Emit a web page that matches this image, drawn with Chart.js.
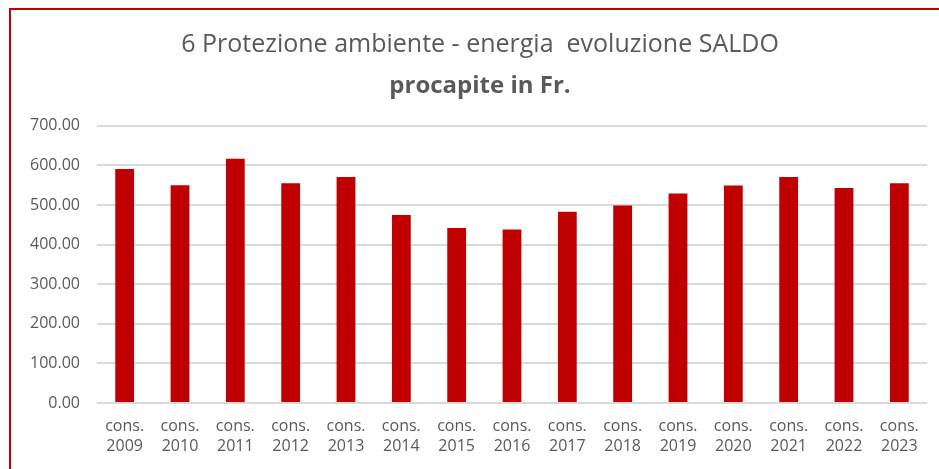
<!DOCTYPE html>
<html>
<head>
<meta charset="utf-8">
<script src="https://cdn.jsdelivr.net/npm/chart.js@4"></script>
<style>
  html, body { margin: 0; padding: 0; background: #fff; overflow: hidden; }
  #wrap { position: relative; width: 939px; height: 469px; overflow: hidden; }
  #frame {
    position: absolute; left: 9px; top: 8px; width: 960px; height: 480px;
    border-top: 2px solid #c00000; border-left: 2px solid #c00000;
    pointer-events: none;
  }
  canvas { position: absolute; left: 0; top: 0; }
</style>
</head>
<body>
<div id="wrap">
  <canvas id="chart" width="939" height="469"></canvas>
  <div id="frame"></div>
</div>
<script>
const years = ['2009', '2010', '2011', '2012', '2013', '2014', '2015', '2016',
  '2017', '2018', '2019', '2020', '2021', '2022', '2023'];
const saldo = [591, 550, 617, 555, 571, 475, 442, 438, 483, 499, 529, 549, 571, 543, 555];
const titleLine = '6 Protezione ambiente - energia  evoluzione SALDO';
const subtitleLine = 'procapite in Fr.';

const labels = years.map((y) => ['cons.', y]);
const textColor = '#595959';
const fontFamily = '"Open Sans", "Noto Sans", sans-serif';

// y tick labels hang into the left padding; widen the clip box so they show
const unclipYLabels = {
  id: 'unclipYLabels',
  afterLayout(chart) {
    chart.scales.y.left = 0;
  },
};

new Chart(document.getElementById('chart').getContext('2d'), {
  type: 'bar',
  data: {
    labels,
    datasets: [
      {
        label: 'SALDO',
        data: saldo,
        backgroundColor: '#c00000',
        borderWidth: 0,
        barPercentage: 0.34,
        categoryPercentage: 1,
      },
    ],
  },
  options: {
    responsive: false,
    animation: false,
    // left/right padding so the titles centre near x=480 like the original
    layout: { padding: { left: 33, right: 12, top: 0, bottom: 0 } },
    plugins: {
      legend: { display: false },
      tooltip: { enabled: false },
      title: {
        display: true,
        text: titleLine,
        color: textColor,
        font: { family: fontFamily, size: 25, weight: 'normal', lineHeight: 1.2 },
        padding: { top: 30, bottom: 4 },
      },
      subtitle: {
        display: true,
        text: subtitleLine,
        color: textColor,
        font: { family: fontFamily, size: 24, weight: 'bold', lineHeight: 1.2 },
        padding: { top: 8, bottom: 25 },
      },
    },
    scales: {
      x: {
        grid: { display: false, drawTicks: false },
        border: { display: false },
        ticks: {
          color: textColor,
          font: { family: fontFamily, size: 16, lineHeight: 1.25 },
          padding: 13,
          maxRotation: 0,
          autoSkip: false,
        },
      },
      y: {
        min: 0,
        max: 700,
        afterFit: (scale) => { scale.width = 64; },
        grid: { color: '#d9d9d9', lineWidth: 2, drawTicks: false },
        border: { display: false },
        ticks: {
          stepSize: 100,
          color: textColor,
          font: { family: fontFamily, size: 16 },
          padding: 17,
          callback: (v) => Number(v).toFixed(2),
        },
      },
    },
  },
  plugins: [unclipYLabels],
});
</script>
</body>
</html>
